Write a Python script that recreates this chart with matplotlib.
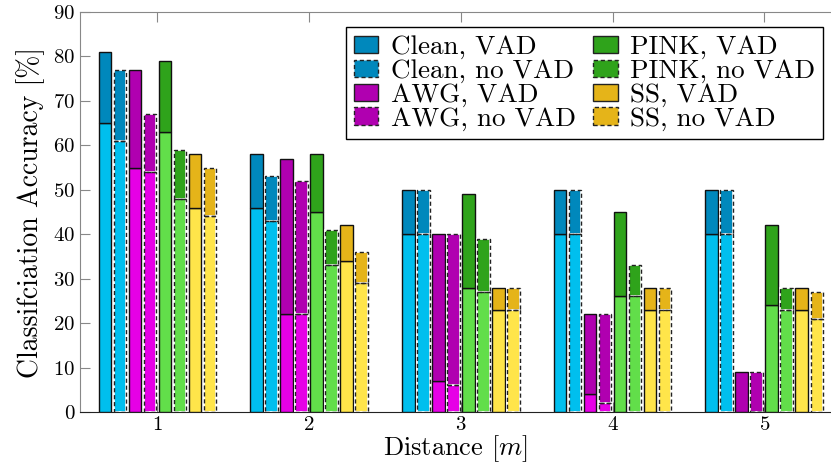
import numpy as np
import matplotlib
matplotlib.use('Agg')
import matplotlib.pyplot as plt
from matplotlib.patches import Patch

plt.rcParams['font.family'] = ['cmr10', 'DejaVu Serif']
plt.rcParams['mathtext.fontset'] = 'cm'
plt.rcParams['axes.formatter.use_mathtext'] = True

distances = [1, 2, 3, 4, 5]
labels = ['Clean, VAD', 'Clean, no VAD', 'AWG, VAD', 'AWG, no VAD',
          'PINK, VAD', 'PINK, no VAD', 'SS, VAD', 'SS, no VAD']

# lower (light) part and total height of each bar, per distance
low = {
    'Clean, VAD':    [65, 46, 40, 40, 40],
    'Clean, no VAD': [61, 43, 40, 40, 40],
    'AWG, VAD':      [55, 22, 7, 4, 0],
    'AWG, no VAD':   [54, 22, 6, 2, 0],
    'PINK, VAD':     [63, 45, 28, 26, 24],
    'PINK, no VAD':  [48, 33, 27, 26, 23],
    'SS, VAD':       [46, 34, 23, 23, 23],
    'SS, no VAD':    [44, 29, 23, 23, 21],
}
high = {
    'Clean, VAD':    [81, 58, 50, 50, 50],
    'Clean, no VAD': [77, 53, 50, 50, 50],
    'AWG, VAD':      [77, 57, 40, 22, 9],
    'AWG, no VAD':   [67, 52, 40, 22, 9],
    'PINK, VAD':     [79, 58, 49, 45, 42],
    'PINK, no VAD':  [59, 41, 39, 33, 28],
    'SS, VAD':       [58, 42, 28, 28, 28],
    'SS, no VAD':    [55, 36, 28, 28, 27],
}

light = {'Clean': '#00BFEE', 'AWG': '#E600E6', 'PINK': '#62DE4A', 'SS': '#FFE54A'}
dark = {'Clean': '#0088BC', 'AWG': '#B000B0', 'PINK': '#2FA31B', 'SS': '#E5B419'}

fig = plt.figure(figsize=(8.31, 4.66), dpi=100)
ax = fig.add_axes([80/831, 1-412/466, 751/831, 400/466])

x = np.array(distances, dtype=float)
pitch = 0.099
width = 0.083

for i, lab in enumerate(labels):
    noise = lab.split(',')[0]
    dashed = 'no VAD' in lab
    pos = x + (i - 3.5) * pitch
    lo = np.array(low[lab])
    hi = np.array(high[lab])
    ls = (0, (3, 2)) if dashed else '-'
    if dashed:
        # white under-edge so the gaps of the dashes look white
        ax.bar(pos, lo, width, color=light[noise], edgecolor='white', linewidth=1.2, zorder=3)
        ax.bar(pos, hi - lo, width, bottom=lo, color=dark[noise], edgecolor='white', linewidth=1.2, zorder=3)
        ax.bar(pos, lo, width, fill=False, edgecolor='#222222', linewidth=1.0, linestyle=ls, zorder=4)
        ax.bar(pos, hi - lo, width, bottom=lo, fill=False, edgecolor='#222222', linewidth=1.0, linestyle=ls, zorder=4)
    else:
        ax.bar(pos, lo, width, color=light[noise], edgecolor='#111111', linewidth=1.0, zorder=3)
        ax.bar(pos, hi - lo, width, bottom=lo, color=dark[noise], edgecolor='#111111', linewidth=1.0, zorder=3)

ax.set_xlim(0.49, 5.44)
ax.set_ylim(0, 90)
ax.set_xticks(distances)
ax.set_yticks(range(0, 91, 10))
ax.tick_params(axis='x', direction='in', top=True, bottom=True, length=7, color='#888888', labelsize=15, pad=3)
ax.tick_params(axis='y', direction='in', left=True, right=False, length=7, color='#888888', labelsize=15)
ax.spines['right'].set_visible(False)
ax.spines['top'].set_color('#888888')
ax.spines['left'].set_color('#888888')
ax.spines['bottom'].set_color('#222222')

ax.set_ylabel('Classifciation Accuracy [%]', fontsize=20, labelpad=6)
ax.set_xlabel('Distance [$m$]', fontsize=19, labelpad=-1)

handles = []
for lab in labels:
    noise = lab.split(',')[0]
    dashed = 'no VAD' in lab
    handles.append(Patch(facecolor=dark[noise], edgecolor='#222222', linewidth=1.0,
                         linestyle=(0, (3, 2)) if dashed else '-', label=lab))
leg = ax.legend(handles=handles, ncol=2, loc='upper right',
                bbox_to_anchor=(823/831, 1-27/466), bbox_transform=fig.transFigure,
                fontsize=19.5, fancybox=False, framealpha=1, edgecolor='black',
                handlelength=0.9, handleheight=0.6, handletextpad=0.45,
                columnspacing=0.65, labelspacing=0.0, borderpad=0.3, borderaxespad=0)
leg.get_frame().set_linewidth(1.0)
leg.set_zorder(10)

fig.savefig('out.png', dpi=100)
